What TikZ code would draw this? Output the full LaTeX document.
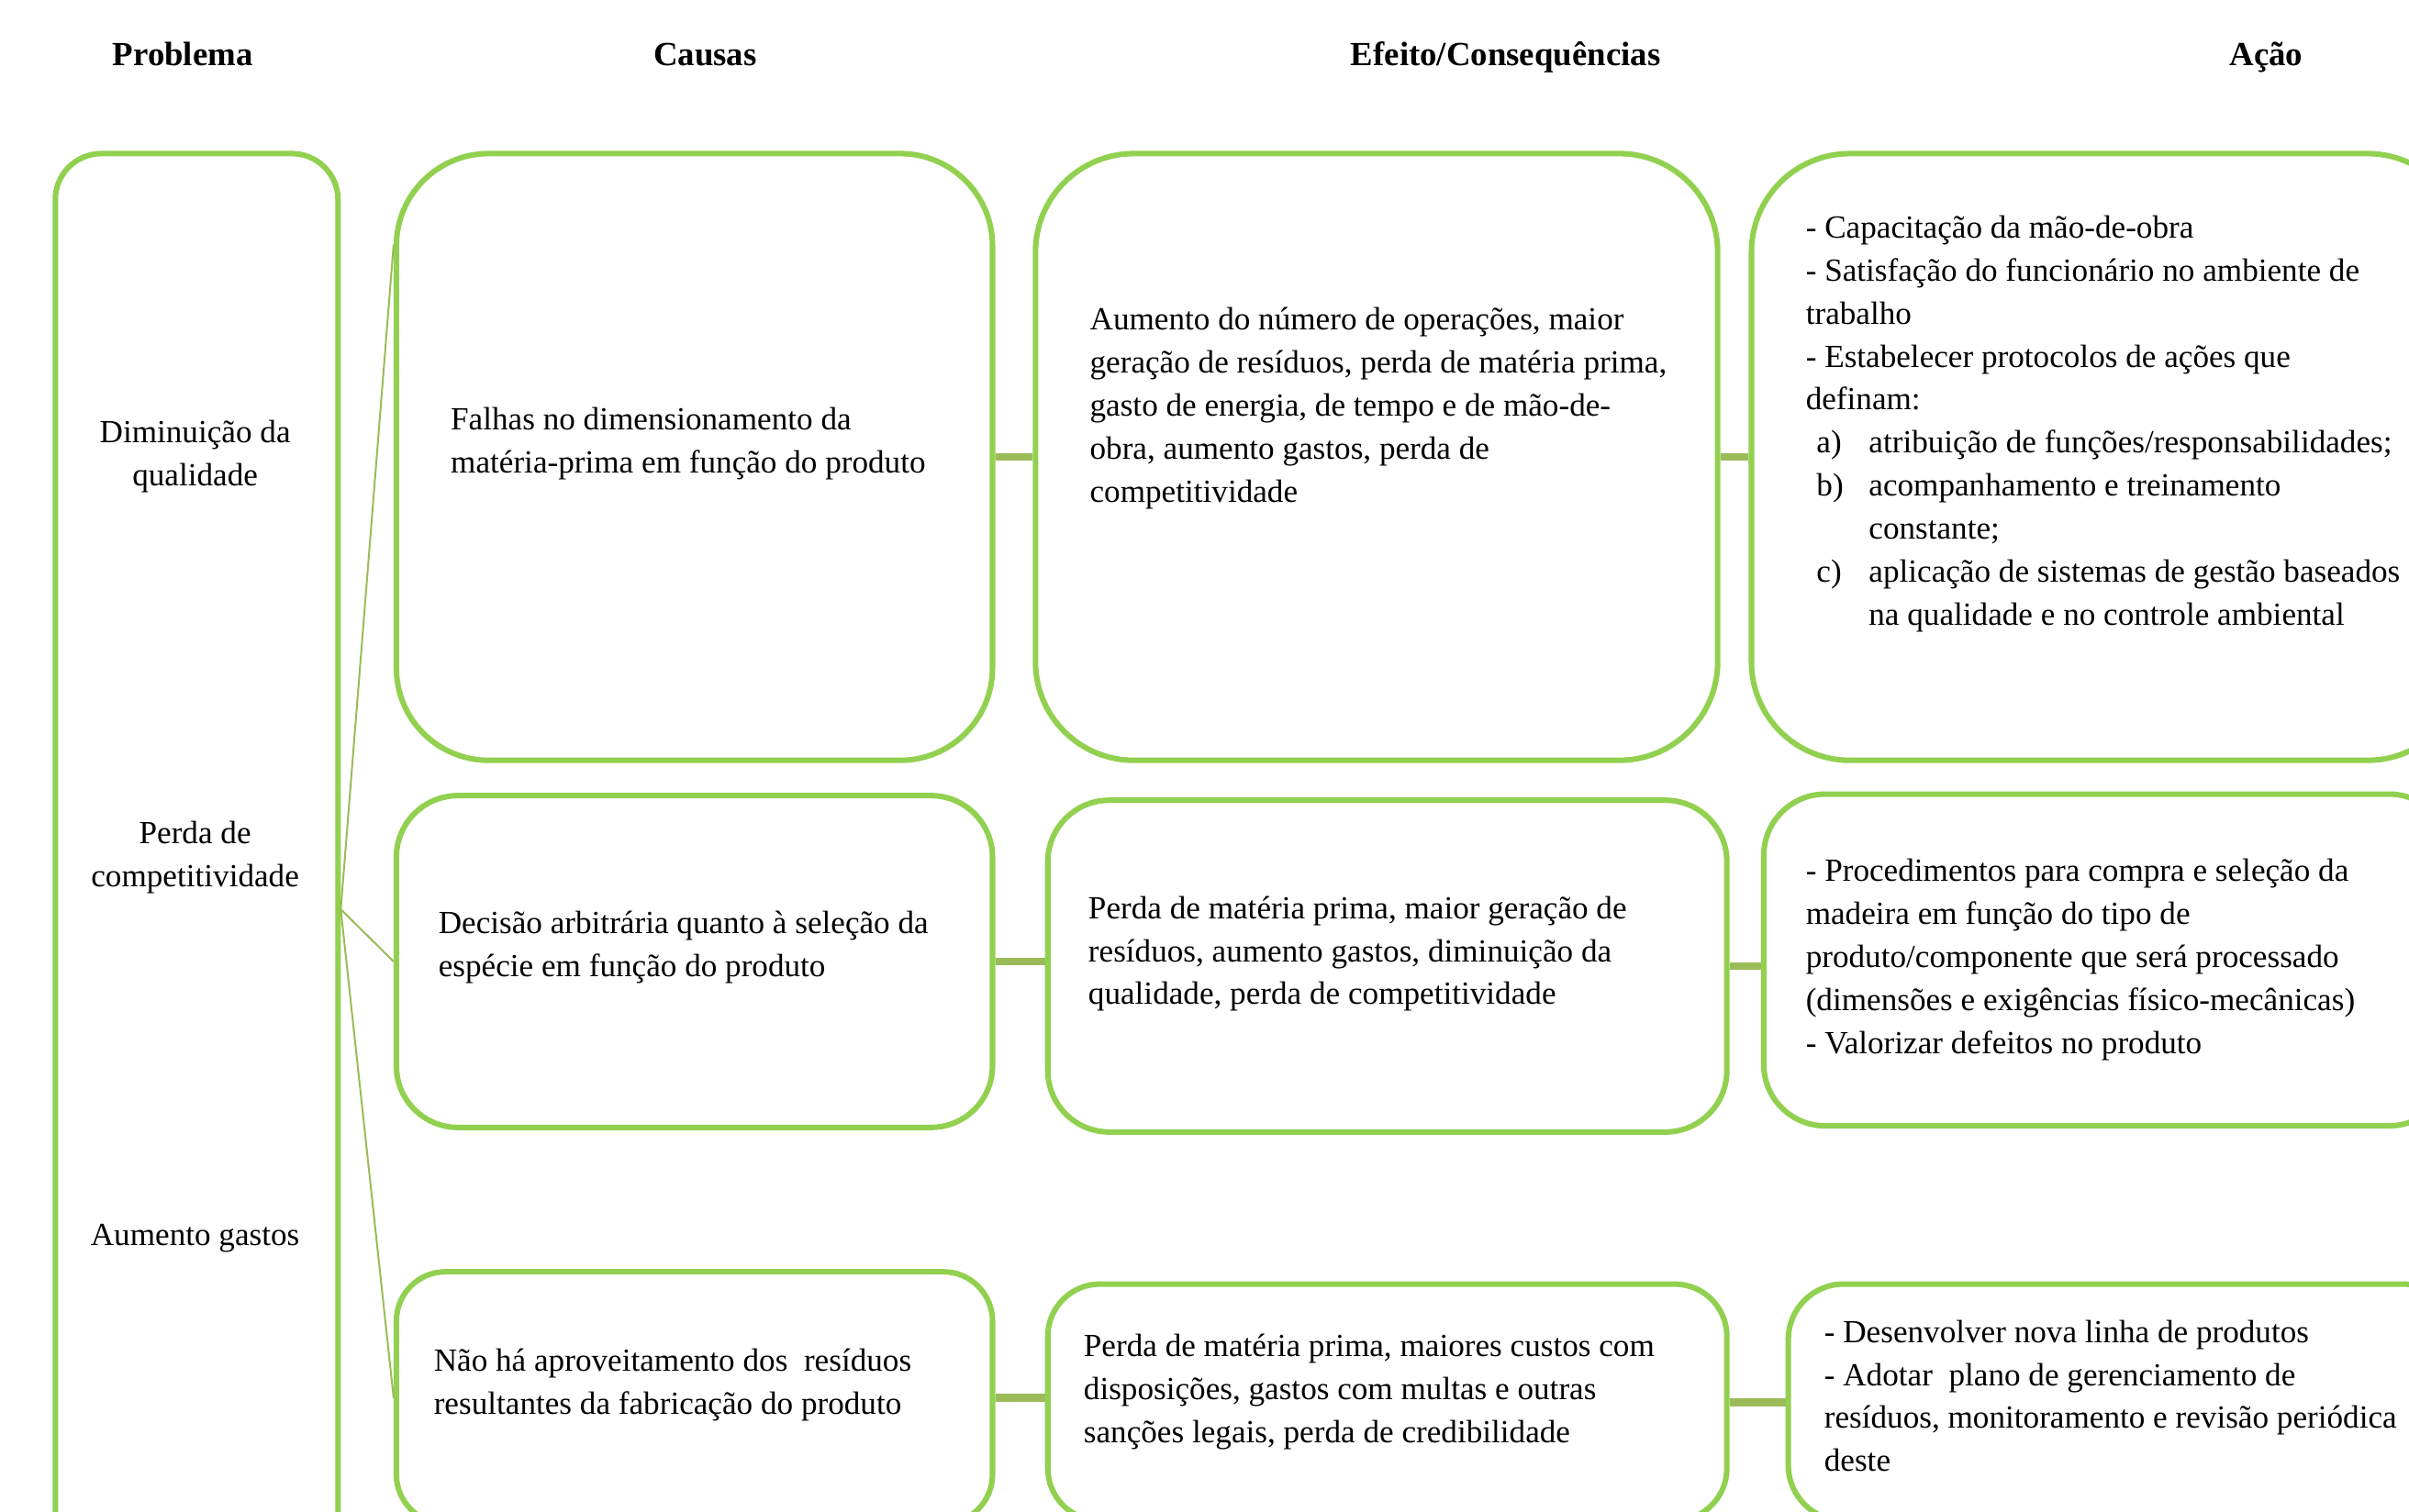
\documentclass[tikz,border=0pt]{standalone}
\usepackage{fontspec}
\setmainfont{Liberation Serif}
\usetikzlibrary{fit}
\definecolor{boxgreen}{HTML}{92D050}
\definecolor{linkgreen}{HTML}{9BBB59}
\begin{document}
\begin{tikzpicture}[x=0.5pt,y=-0.5pt,
    box/.style={draw=boxgreen, line width=1.8pt, inner sep=0pt},
    txt/.style={anchor=north west, inner sep=0pt, align=left, font=\fontsize{10.5}{14}\selectfont},
    ptxt/.style={inner sep=0pt, align=center, font=\fontsize{10.5}{14}\selectfont},
    head/.style={inner sep=0pt, text height=7.5pt, text depth=2pt, font=\fontsize{11}{14}\selectfont\bfseries},
    link/.style={draw=linkgreen, line width=2.6pt},
    fanline/.style={draw=linkgreen, line width=0.6pt}]
  \clip (0,0) rectangle (1568,984);

  \node[head] (hprob) at (119,37) {Problema};
  \node[head] (hcausa) at (459,37) {Causas};
  \node[head] (hefeito) at (980,37) {Efeito/Consequências};
  \node[head] (hacao) at (1475,37) {Ação};

  \node[box, rounded corners=15pt, fit={(36,100) (220,1084)}] (prob) {};
  \node[ptxt] (prob1) at (127,297) {Diminuição da\\qualidade};
  \node[ptxt] (prob2) at (127,558) {Perda de\\competitividade};
  \node[ptxt] (prob3) at (127,806) {Aumento gastos};

  \node[box, rounded corners=30pt, fit={(258,100) (646,495)}] (causa1) {};
  \node[box, rounded corners=20pt, fit={(258,518) (646,734)}] (causa2) {};
  \node[box, rounded corners=16pt, fit={(258,828) (646,992)}] (causa3) {};

  \node[box, rounded corners=32pt, fit={(674,100) (1118,495)}] (efeito1) {};
  \node[box, rounded corners=20pt, fit={(682,521) (1124,737)}] (efeito2) {};
  \node[box, rounded corners=17pt, fit={(682,836) (1124,990)}] (efeito3) {};

  \node[box, rounded corners=32pt, fit={(1140,100) (1605,495)}] (acao1) {};
  \node[box, rounded corners=20pt, fit={(1148,517) (1595,733)}] (acao2) {};
  \node[box, rounded corners=18pt, fit={(1164,836) (1600,990)}] (acao3) {};

  \node[txt] (tcausa1) at (293,265) {Falhas no dimensionamento da\\matéria-prima em função do produto};
  \node[txt] (tcausa2) at (285,593) {Decisão arbitrária quanto à seleção da\\espécie em função do produto};
  \node[txt] (tcausa3) at (282,878) {Não há aproveitamento dos\ \ resíduos\\resultantes da fabricação do produto};

  \node[txt] (tefeito1) at (709,200) {Aumento do número de operações, maior\\geração de resíduos, perda de matéria prima,\\gasto de energia, de tempo e de mão-de-\\obra, aumento gastos, perda de\\competitividade};
  \node[txt] (tefeito2) at (708,583) {Perda de matéria prima, maior geração de\\resíduos, aumento gastos, diminuição da\\qualidade, perda de competitividade};
  \node[txt] (tefeito3) at (705,868) {Perda de matéria prima, maiores custos com\\disposições, gastos com multas e outras\\sanções legais, perda de credibilidade};

  \node[txt] (tacao1) at (1175,140) {- Capacitação da mão-de-obra\\
    - Satisfação do funcionário no ambiente de\\
    trabalho\\
    - Estabelecer protocolos de ações que\\
    definam:\\
    \hspace*{3.5pt}\makebox[17pt][l]{a)}atribuição de funções/responsabilidades;\\
    \hspace*{3.5pt}\makebox[17pt][l]{b)}acompanhamento e treinamento\\
    \hspace*{20.5pt}constante;\\
    \hspace*{3.5pt}\makebox[17pt][l]{c)}aplicação de sistemas de gestão baseados\\
    \hspace*{20.5pt}na qualidade e no controle ambiental};
  \node[txt] (tacao2) at (1175,559) {- Procedimentos para compra e seleção da\\madeira em função do tipo de\\produto/componente que será processado\\(dimensões e exigências físico-mecânicas)\\- Valorizar defeitos no produto};
  \node[txt] (tacao3) at (1187,859) {- Desenvolver nova linha de produtos\\- Adotar\ \ plano de gerenciamento de\\resíduos, monitoramento e revisão periódica\\deste};

  \draw[fanline] (prob.east) -- ([yshift=-30.5pt]causa1.north west);
  \draw[fanline] (prob.east) -- (causa2.west);
  \draw[fanline] (prob.east) -- (causa3.west);

  \draw[link] (causa1.east) -- (causa1.east -| efeito1.west);
  \draw[link] (causa2.east) -- (causa2.east -| efeito2.west);
  \draw[link] (causa3.east) -- (causa3.east -| efeito3.west);
  \draw[link] (efeito1.east) -- (efeito1.east -| acao1.west);
  \draw[link] (efeito2.east) -- (efeito2.east -| acao2.west);
  \draw[link] (efeito3.east) -- (efeito3.east -| acao3.west);
\end{tikzpicture}
\end{document}
